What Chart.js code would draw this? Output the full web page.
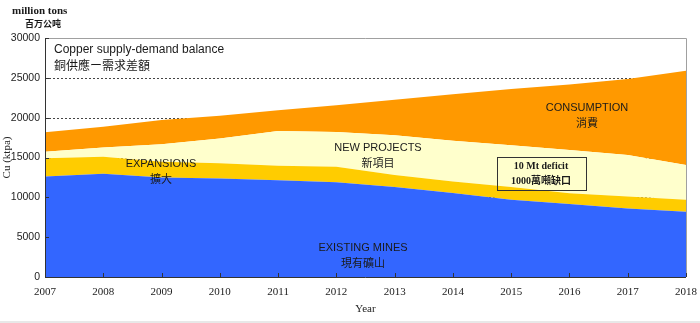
<!DOCTYPE html>
<html>
<head>
<meta charset="utf-8">
<script src="https://cdn.jsdelivr.net/npm/chart.js@4.4.1/dist/chart.umd.min.js"></script>
<style>
  html, body { margin: 0; padding: 0; background: #fff; }
  #wrap { width: 700px; height: 323px; }
</style>
</head>
<body>
<div id="wrap"><canvas id="c" width="700" height="323"></canvas></div>
<script>
const years = ['2007', '2008', '2009', '2010', '2011', '2012', '2013', '2014', '2015', '2016', '2017', '2018'];
// top edge of each band, ktpa
const existingMines = [12600, 12950, 12500, 12350, 12150, 11900, 11300, 10550, 9700, 9150, 8600, 8200];
const expansions = [14900, 15100, 14470, 14270, 13970, 13850, 12800, 12000, 11300, 10500, 10100, 9700];
const newProjects = [15730, 16250, 16650, 17400, 18330, 18200, 17800, 17100, 16550, 15950, 15300, 14060];
const consumption = [18160, 18870, 19700, 20230, 20920, 21550, 22250, 22950, 23600, 24150, 24850, 25900];
const yTicks = [0, 5000, 10000, 15000, 20000, 25000, 30000];

const SANS = '"Liberation Sans", Arial, sans-serif';
const SERIF = '"Liberation Serif", "Times New Roman", serif';
const CJK = '"Noto Sans CJK TC", sans-serif';

// grid + frame drawn by hand so dashes sit behind the fills and axes on top
const framePlugin = {
  id: 'frame',
  beforeDatasetsDraw(chart) {
    const { ctx, chartArea: a, scales } = chart;
    ctx.save();
    ctx.strokeStyle = '#444';
    ctx.lineWidth = 1;
    ctx.setLineDash([2, 2]);
    yTicks.slice(1, -1).forEach(v => {
      const y = Math.round(scales.y.getPixelForValue(v)) + 0.5;
      ctx.beginPath();
      ctx.moveTo(a.left, y);
      ctx.lineTo(a.right, y);
      ctx.stroke();
    });
    ctx.restore();
  },
  afterDatasetsDraw(chart) {
    const { ctx, chartArea: a, scales } = chart;
    ctx.save();
    ctx.lineWidth = 1;
    // top and right border
    ctx.strokeStyle = '#a0a0a0';
    ctx.beginPath();
    ctx.moveTo(a.left, Math.round(a.top) + 0.5);
    ctx.lineTo(Math.round(a.right) + 0.5, Math.round(a.top) + 0.5);
    ctx.lineTo(Math.round(a.right) + 0.5, a.bottom);
    ctx.stroke();
    // axes
    ctx.strokeStyle = '#333';
    ctx.beginPath();
    ctx.moveTo(Math.round(a.left) + 0.5, a.top);
    ctx.lineTo(Math.round(a.left) + 0.5, Math.round(a.bottom) + 0.5);
    ctx.lineTo(a.right, Math.round(a.bottom) + 0.5);
    ctx.stroke();
    // inward tick marks
    ctx.beginPath();
    years.forEach((yr, i) => {
      const x = Math.round(scales.x.getPixelForValue(i)) + 0.5;
      ctx.moveTo(x, a.bottom);
      ctx.lineTo(x, a.bottom - 4);
    });
    yTicks.forEach(v => {
      const y = Math.round(scales.y.getPixelForValue(v)) + 0.5;
      ctx.moveTo(a.left, y);
      ctx.lineTo(a.left + 4, y);
    });
    ctx.stroke();
    ctx.restore();
  },
  afterDraw(chart) {
    const { ctx } = chart;
    ctx.save();
    ctx.fillStyle = '#1a1a1a';
    ctx.textBaseline = 'middle';

    // unit header
    ctx.textAlign = 'left';
    ctx.font = 'bold 11px ' + SERIF;
    ctx.fillText('million tons', 12, 11);
    ctx.font = 'bold 9px "Noto Sans CJK SC", sans-serif';
    ctx.fillText('百万公吨', 25, 24);

    // chart caption
    ctx.font = '12px ' + SANS;
    ctx.fillText('Copper supply-demand balance', 54, 50);
    ctx.font = '12px ' + CJK;
    ctx.fillText('銅供應ー需求差額', 54, 65);

    // band labels
    ctx.textAlign = 'center';
    const label = (en, zh, x, y) => {
      ctx.font = '11px ' + SANS;
      ctx.fillText(en, x, y);
      ctx.font = '11px ' + CJK;
      ctx.fillText(zh, x, y + 15);
    };
    label('EXPANSIONS', '擴大', 161, 164);
    label('NEW PROJECTS', '新項目', 378, 148);
    label('CONSUMPTION', '消費', 587, 108);
    label('EXISTING MINES', '現有礦山', 363, 248);

    // deficit box
    ctx.strokeStyle = '#333';
    ctx.lineWidth = 1;
    ctx.strokeRect(497.5, 157.5, 89, 33);
    ctx.font = 'bold 10px ' + SERIF;
    ctx.fillText('10 Mt deficit', 541, 166);
    ctx.font = 'bold 10px ' + SERIF + ', "Noto Sans CJK TC"';
    ctx.fillText('1000萬噸缺口', 541, 181);

    // bottom edge strip
    ctx.fillStyle = '#e8e8e8';
    ctx.fillRect(0, 321, 700, 2);
    ctx.restore();
  }
};

new Chart(document.getElementById('c'), {
  type: 'line',
  data: {
    labels: years,
    datasets: [
      { label: 'Existing mines', data: existingMines, backgroundColor: '#3366ff', fill: 'origin' },
      { label: 'Expansions', data: expansions, backgroundColor: '#ffcc00', fill: '-1' },
      { label: 'New projects', data: newProjects, backgroundColor: '#ffffcc', fill: '-1' },
      { label: 'Consumption', data: consumption, backgroundColor: '#ff9900', fill: '-1' }
    ]
  },
  options: {
    responsive: false,
    animation: false,
    events: [],
    layout: { padding: { top: 38, right: 14, left: 0, bottom: 0 } },
    elements: {
      line: { borderWidth: 0, borderColor: 'transparent', tension: 0 },
      point: { radius: 0 }
    },
    plugins: {
      legend: { display: false },
      tooltip: { enabled: false }
    },
    scales: {
      x: {
        grid: { display: false, drawTicks: false },
        border: { display: false },
        ticks: { color: '#222', font: { family: SERIF, size: 11 }, padding: 9, maxRotation: 0, autoSkip: false },
        title: { display: true, text: 'Year', color: '#222', font: { family: SERIF, size: 11 }, padding: { top: 0, bottom: 7 } },
        afterFit(s) { s.height = 46; s.paddingLeft = 0; s.paddingRight = 0; }
      },
      y: {
        min: 0,
        max: 30000,
        grid: { display: false, drawTicks: false },
        border: { display: false },
        ticks: {
          stepSize: 5000, color: '#222', font: { family: SANS, size: 10.5 }, padding: 5,
          callback: v => String(v)
        },
        title: { display: true, text: 'Cu (ktpa)', color: '#222', font: { family: SERIF, size: 11 }, padding: 1 },
        afterFit(s) { s.width = 45; s.paddingTop = 0; s.paddingBottom = 0; }
      }
    }
  },
  plugins: [framePlugin]
});
</script>
</body>
</html>
